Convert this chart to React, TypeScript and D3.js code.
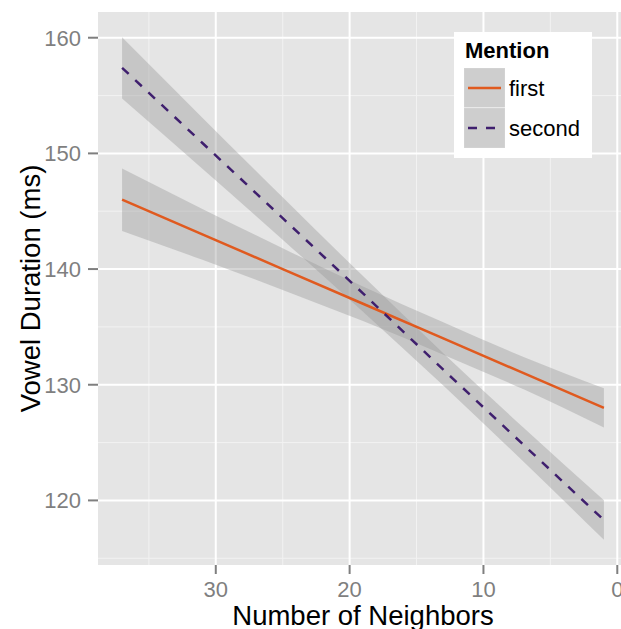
import React, { useEffect, useRef } from "react";
import * as d3 from "d3";

// fitted values (x = number of neighbors)
const neighbors = [37, 31, 25, 19, 13, 7, 1];
const firstFit = [146.0, 143.0, 140.0, 137.0, 134.0, 131.0, 128.0];
const firstLower = [143.3, 140.8, 138.2, 135.5, 132.6, 129.6, 126.3];
const firstUpper = [148.7, 145.2, 141.8, 138.5, 135.4, 132.4, 129.7];
const secondFit = [157.4, 150.9, 144.4, 137.9, 131.3, 124.8, 118.3];
const secondLower = [154.75, 148.67, 142.54, 136.31, 129.93, 123.34, 116.59];
const secondUpper = [160.05, 153.09, 146.2, 139.39, 132.73, 126.28, 120.01];

const mentions = ["first", "second"];
const xTicks = [30, 20, 10, 0];
const xMinor = [35, 25, 15, 5];
const yTicks = [120, 130, 140, 150, 160];
const yMinor = [115, 125, 135, 145, 155];

interface Pt {
  x: number;
  fit: number;
  lo: number;
  hi: number;
}

const App: React.FC = () => {
  const svgRef = useRef<SVGSVGElement | null>(null);

  useEffect(() => {
    if (!svgRef.current) return;
    const width = 621;
    const height = 629;
    const panel = { left: 98, right: 628, top: 12, bottom: 565 };

    const series: { name: string; pts: Pt[]; color: string; dash: string | null }[] = [
      {
        name: mentions[0],
        pts: neighbors.map((x, i) => ({ x, fit: firstFit[i], lo: firstLower[i], hi: firstUpper[i] })),
        color: "#E05A1F",
        dash: null,
      },
      {
        name: mentions[1],
        pts: neighbors.map((x, i) => ({ x, fit: secondFit[i], lo: secondLower[i], hi: secondUpper[i] })),
        color: "#3F1F6E",
        dash: "9,9",
      },
    ];

    // ggplot style 5% expansion
    const [xMin, xMax] = d3.extent(neighbors) as [number, number];
    const xPad = (xMax - xMin) * 0.05;
    const allY = [...firstLower, ...firstUpper, ...secondLower, ...secondUpper];
    const [yMin, yMax] = d3.extent(allY) as [number, number];
    const yPad = (yMax - yMin) * 0.05;

    const x = d3
      .scaleLinear()
      .domain([xMax + xPad, xMin - xPad])
      .range([panel.left, panel.right]);
    const y = d3
      .scaleLinear()
      .domain([yMin - yPad, yMax + yPad])
      .range([panel.bottom, panel.top]);

    const svg = d3.select(svgRef.current);
    svg.selectAll("*").remove();
    svg.attr("font-family", "'Liberation Sans', Arial, sans-serif");

    svg.append("rect").attr("width", width).attr("height", height).attr("fill", "white");

    // panel
    svg
      .append("rect")
      .attr("x", panel.left)
      .attr("y", panel.top)
      .attr("width", panel.right - panel.left)
      .attr("height", panel.bottom - panel.top)
      .attr("fill", "#E5E5E5");

    // minor grid
    svg
      .selectAll(".xminor")
      .data(xMinor)
      .join("line")
      .attr("x1", (d) => x(d))
      .attr("x2", (d) => x(d))
      .attr("y1", panel.top)
      .attr("y2", panel.bottom)
      .attr("stroke", "#F2F2F2")
      .attr("stroke-width", 1);
    svg
      .selectAll(".yminor")
      .data(yMinor)
      .join("line")
      .attr("y1", (d) => y(d))
      .attr("y2", (d) => y(d))
      .attr("x1", panel.left)
      .attr("x2", panel.right)
      .attr("stroke", "#F2F2F2")
      .attr("stroke-width", 1);

    // major grid
    svg
      .selectAll(".xmajor")
      .data(xTicks)
      .join("line")
      .attr("x1", (d) => x(d))
      .attr("x2", (d) => x(d))
      .attr("y1", panel.top)
      .attr("y2", panel.bottom)
      .attr("stroke", "white")
      .attr("stroke-width", 2);
    svg
      .selectAll(".ymajor")
      .data(yTicks)
      .join("line")
      .attr("y1", (d) => y(d))
      .attr("y2", (d) => y(d))
      .attr("x1", panel.left)
      .attr("x2", panel.right)
      .attr("stroke", "white")
      .attr("stroke-width", 2);

    // ribbons
    const area = d3
      .area<Pt>()
      .x((d) => x(d.x))
      .y0((d) => y(d.lo))
      .y1((d) => y(d.hi))
      .curve(d3.curveMonotoneX);
    series.forEach((s) => {
      svg
        .append("path")
        .attr("d", area(s.pts) || "")
        .attr("fill", "#999999")
        .attr("fill-opacity", 0.4);
    });

    // fitted lines
    const line = d3
      .line<Pt>()
      .x((d) => x(d.x))
      .y((d) => y(d.fit));
    series.forEach((s) => {
      svg
        .append("path")
        .attr("d", line(s.pts) || "")
        .attr("fill", "none")
        .attr("stroke", s.color)
        .attr("stroke-width", 2.5)
        .attr("stroke-dasharray", s.dash);
    });

    // axes
    const tickColor = "#7F7F7F";
    svg
      .selectAll(".ytick")
      .data(yTicks)
      .join("line")
      .attr("x1", panel.left - 10)
      .attr("x2", panel.left)
      .attr("y1", (d) => y(d))
      .attr("y2", (d) => y(d))
      .attr("stroke", tickColor)
      .attr("stroke-width", 2);
    svg
      .selectAll(".ylabel")
      .data(yTicks)
      .join("text")
      .attr("x", 81)
      .attr("y", (d) => y(d) + 8)
      .attr("text-anchor", "end")
      .attr("font-size", "22px")
      .attr("fill", tickColor)
      .text((d) => d);

    svg
      .selectAll(".xtick")
      .data(xTicks)
      .join("line")
      .attr("x1", (d) => x(d))
      .attr("x2", (d) => x(d))
      .attr("y1", panel.bottom)
      .attr("y2", panel.bottom + 9)
      .attr("stroke", tickColor)
      .attr("stroke-width", 2);
    svg
      .selectAll(".xlabel")
      .data(xTicks)
      .join("text")
      .attr("x", (d) => x(d))
      .attr("y", 597)
      .attr("text-anchor", "middle")
      .attr("font-size", "22px")
      .attr("fill", tickColor)
      .text((d) => d);

    // axis titles
    svg
      .append("text")
      .attr("x", (panel.left + panel.right) / 2)
      .attr("y", 625)
      .attr("text-anchor", "middle")
      .attr("font-size", "27.5px")
      .attr("fill", "black")
      .text("Number of Neighbors");
    svg
      .append("text")
      .attr("transform", `translate(40,${(panel.top + panel.bottom) / 2}) rotate(-90)`)
      .attr("text-anchor", "middle")
      .attr("font-size", "27.5px")
      .attr("fill", "black")
      .text("Vowel Duration (ms)");

    // legend
    const legend = svg.append("g").attr("transform", "translate(454,32)");
    legend.append("rect").attr("width", 138).attr("height", 126).attr("fill", "white");
    legend
      .append("text")
      .attr("x", 11)
      .attr("y", 26)
      .attr("font-size", "22px")
      .attr("font-weight", "bold")
      .text("Mention");
    series.forEach((s, i) => {
      const row = legend.append("g").attr("transform", `translate(10,${36 + i * 40})`);
      row
        .append("rect")
        .attr("width", 41)
        .attr("height", 40)
        .attr("fill", "#F2F2F2")
        .attr("stroke", "white")
        .attr("stroke-width", 1);
      row
        .append("rect")
        .attr("width", 41)
        .attr("height", 40)
        .attr("fill", "#999999")
        .attr("fill-opacity", 0.4);
      row
        .append("line")
        .attr("x1", 4)
        .attr("x2", 37)
        .attr("y1", 20)
        .attr("y2", 20)
        .attr("stroke", s.color)
        .attr("stroke-width", 2.5)
        .attr("stroke-dasharray", s.dash);
      row
        .append("text")
        .attr("x", 45)
        .attr("y", 28)
        .attr("font-size", "22px")
        .attr("fill", "black")
        .text(s.name);
    });
  }, []);

  return (
    <svg
      ref={svgRef}
      width={621}
      height={629}
      style={{ position: "absolute", left: 0, top: 0, display: "block" }}
    ></svg>
  );
};

export default App;
